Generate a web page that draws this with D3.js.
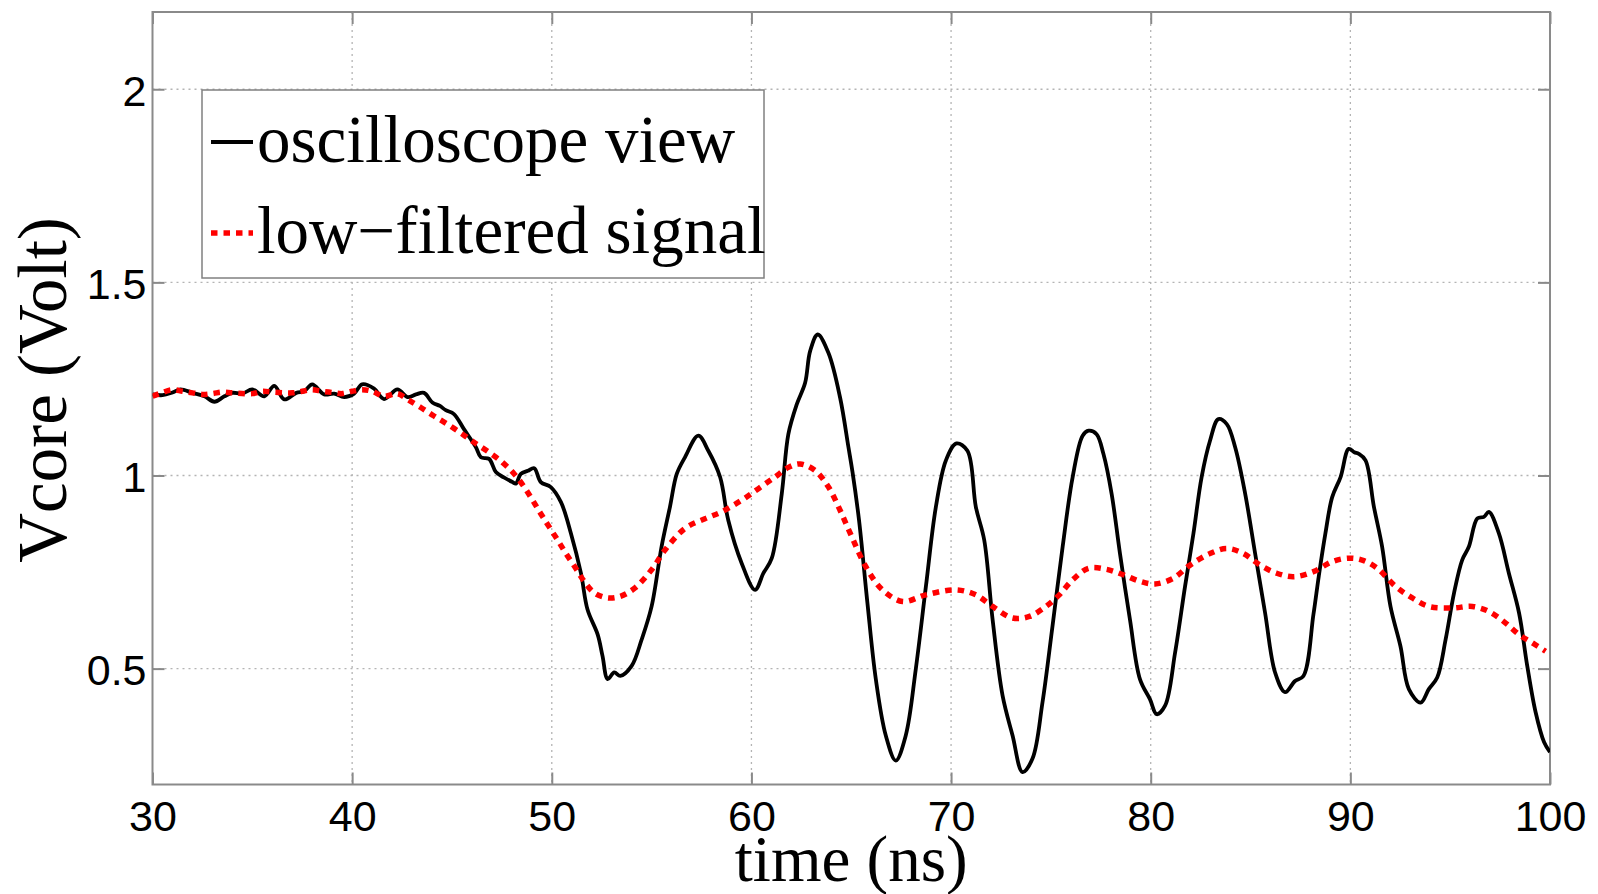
<!DOCTYPE html>
<html>
<head>
  <title>Vcore oscilloscope</title>
</head>
<style>
  body {
    margin: 0;
    background: white;
  }
  .tick text {
    font-family: "Liberation Sans", Arial, sans-serif;
    font-size: 43px;
    fill: black;
  }
  .serif {
    font-family: "Liberation Serif", "Times New Roman", serif;
    fill: black;
  }
</style>
<body>
  <script src="https://d3js.org/d3.v7.min.js"></script>
  <script>
    // oscilloscope trace (ns, V)
    const scopeTime = [30.0, 30.5, 31.0, 31.4, 32.0, 32.6, 33.1, 33.6, 34.0, 34.5, 35.0, 35.6, 36.1, 36.6, 37.2, 37.6,
      38.0, 38.6, 39.1, 39.6, 40.1, 40.5, 41.1, 41.6, 42.27, 42.77, 43.2, 43.6, 44.02, 44.4, 44.69, 45.1, 45.6,
      46.2, 46.45, 46.86, 47.2, 47.6, 48.03, 48.2, 48.45, 48.8, 49.12, 49.45, 49.95, 50.46, 50.96, 51.46, 51.79,
      52.3, 52.54, 52.8, 53.13, 53.43, 54.0, 54.5, 55.0, 55.5, 55.92, 56.26, 56.67, 57.34, 57.84, 58.43, 58.84,
      59.51, 60.18, 60.6, 61.02, 61.52, 61.85, 62.27, 62.69, 62.94, 63.32, 63.86, 64.44, 64.86, 65.06, 65.39,
      65.81, 66.23, 66.73, 67.23, 67.73, 68.23, 68.74, 69.24, 69.74, 70.27, 70.82, 71.24, 71.66, 72.08, 72.58,
      73.08, 73.58, 74.08, 74.58, 75.08, 75.59, 76.09, 76.59, 76.89, 77.29, 77.63, 78.04, 78.46, 78.96, 79.46,
      79.96, 80.3, 80.72, 81.22, 81.72, 82.14, 82.55, 82.97, 83.39, 83.81, 84.23, 84.73, 85.23, 85.73, 86.23,
      86.73, 87.23, 87.65, 88.15, 88.42, 88.75, 89.09, 89.51, 89.92, 90.2, 90.42, 90.76, 91.18, 91.59, 92.01,
      92.51, 92.93, 93.52, 93.93, 94.35, 94.77, 95.19, 95.6, 95.94, 96.36, 96.69, 96.94, 97.44, 97.94, 98.45,
      98.86, 99.28, 99.7, 100.0];
    const scopeVolt = [1.21, 1.208, 1.215, 1.223, 1.214, 1.205, 1.191, 1.205, 1.214, 1.212, 1.223, 1.205, 1.232, 1.197, 1.214, 1.218,
      1.236, 1.21, 1.212, 1.203, 1.212, 1.236, 1.225, 1.198, 1.223, 1.203, 1.21, 1.214, 1.189, 1.18, 1.169, 1.159, 1.12,
      1.073, 1.047, 1.043, 1.009, 0.995, 0.983, 0.979, 1.004, 1.012, 1.019, 0.983, 0.97, 0.931, 0.85, 0.747, 0.653,
      0.588, 0.533, 0.473, 0.49, 0.481, 0.507, 0.575, 0.661, 0.816, 0.919, 1.004, 1.047, 1.103, 1.064, 0.996, 0.884,
      0.773, 0.704, 0.747, 0.786, 0.953, 1.107, 1.184, 1.24, 1.322, 1.365, 1.317, 1.202, 1.073, 1.01, 0.884,
      0.67, 0.473, 0.327, 0.262, 0.327, 0.498, 0.713, 0.919, 1.039, 1.083, 1.064, 0.919, 0.833, 0.627, 0.43,
      0.327, 0.232, 0.267, 0.413, 0.61, 0.816, 0.996, 1.103, 1.116, 1.107, 1.056, 0.953, 0.798, 0.627, 0.473,
      0.421, 0.382, 0.404, 0.541, 0.713, 0.85, 0.996, 1.09, 1.146, 1.133, 1.073, 0.953, 0.798, 0.644, 0.49,
      0.439, 0.468, 0.481, 0.64, 0.74, 0.85, 0.944, 0.996, 1.069, 1.06, 1.056, 1.039, 0.919, 0.816, 0.661,
      0.558, 0.447, 0.412, 0.447, 0.477, 0.575, 0.695, 0.781, 0.816, 0.889, 0.893, 0.906, 0.85, 0.747, 0.644,
      0.507, 0.387, 0.31, 0.284];

    // low-pass filtered signal
    const filtTime = [30, 30.5, 31, 31.5, 32, 32.5, 33, 33.5, 34, 35, 35.5, 36, 37, 37.5, 38, 38.5, 39, 39.5, 40, 40.5,
      41, 41.6, 42.27, 42.77, 43.44, 44.1, 44.77, 45.53, 46.1, 46.86, 47.53, 48.12, 48.62, 49.04, 49.45, 49.87,
      50.29, 50.71, 51.2, 51.62, 52.13, 52.8, 53.43, 54.17, 55.0, 55.67, 56.67, 57.67, 58.51, 59.51, 60.35, 61.18,
      61.85, 62.44, 63.19, 63.86, 64.44, 65.03, 65.73, 66.56, 67.57, 68.74, 70.24, 71.24, 72.08, 73.08, 73.92,
      74.75, 75.42, 76.09, 76.89, 77.79, 78.63, 79.46, 80.22, 81.13, 81.97, 82.97, 83.81, 84.64, 85.48, 86.31,
      87.15, 88.15, 89.09, 89.92, 90.59, 91.34, 92.26, 93.1, 93.93, 95.1, 96.11, 96.94, 97.78, 98.45, 99.11, 99.78];
    const filtVolt = [1.205, 1.215, 1.222, 1.218, 1.214, 1.21, 1.212, 1.216, 1.214, 1.212, 1.218, 1.216, 1.214, 1.218, 1.222, 1.218, 1.215, 1.212, 1.218, 1.222,
      1.218, 1.205, 1.212, 1.197, 1.176, 1.154, 1.133, 1.107, 1.086, 1.06, 1.034, 1.004, 0.97, 0.936, 0.901, 0.867,
      0.833, 0.798, 0.76, 0.726, 0.696, 0.683, 0.687, 0.709, 0.756, 0.807, 0.863, 0.888, 0.906, 0.936, 0.966, 0.996,
      1.021, 1.03, 1.013, 0.97, 0.91, 0.841, 0.764, 0.704, 0.674, 0.691, 0.704, 0.691, 0.661, 0.631, 0.635,
      0.661, 0.691, 0.73, 0.76, 0.757, 0.743, 0.726, 0.719, 0.734, 0.768, 0.798, 0.811, 0.798, 0.768, 0.747,
      0.738, 0.751, 0.777, 0.786, 0.781, 0.76, 0.713, 0.683, 0.661, 0.657, 0.661, 0.648, 0.618, 0.588, 0.567, 0.545];

    const xTicks = [30, 40, 50, 60, 70, 80, 90, 100];
    const yTicks = [0.5, 1, 1.5, 2];
    const legendLabels = ["oscilloscope view", "low\u2212filtered signal"];

    const W = 1598, H = 894;
    const mLeft = 152.5, mRight = 1550, mTop = 12, mBottom = 784.5;
    const axisGray = "#8a8a8a";

    const x = d3.scaleLinear().domain([30, 100]).range([mLeft, mRight]);
    const y = d3.scaleLinear().domain([0.2, 2.2]).range([mBottom, mTop]);

    const svg = d3.select("body").append("svg")
      .attr("width", W)
      .attr("height", H);

    svg.append("defs").append("clipPath").attr("id", "plotclip")
      .append("rect")
      .attr("x", mLeft).attr("y", mTop)
      .attr("width", mRight - mLeft).attr("height", mBottom - mTop);

    // dotted grid
    const grid = svg.append("g")
      .attr("stroke", "#b4b4b4")
      .attr("stroke-width", 1.3)
      .attr("stroke-dasharray", "2,4");
    grid.selectAll("line.gx")
      .data(xTicks.slice(1, -1))
      .join("line")
        .attr("class", "gx")
        .attr("x1", d => x(d)).attr("x2", d => x(d))
        .attr("y1", mTop).attr("y2", mBottom);
    grid.selectAll("line.gy")
      .data(yTicks)
      .join("line")
        .attr("class", "gy")
        .attr("x1", mLeft).attr("x2", mRight)
        .attr("y1", d => y(d)).attr("y2", d => y(d));

    // axes, MATLAB style: ticks pointing inward on all four sides
    const tickLen = 12;
    const xBottom = svg.append("g")
      .attr("transform", "translate(0," + mBottom + ")")
      .call(d3.axisBottom(x).tickValues(xTicks).tickSizeInner(-tickLen).tickSizeOuter(0).tickPadding(16));
    const xTop = svg.append("g")
      .attr("transform", "translate(0," + mTop + ")")
      .call(d3.axisTop(x).tickValues(xTicks).tickSizeInner(-tickLen).tickSizeOuter(0).tickFormat(""));
    const yLeft = svg.append("g")
      .attr("transform", "translate(" + mLeft + ",0)")
      .call(d3.axisLeft(y).tickValues(yTicks).tickSizeInner(-tickLen).tickSizeOuter(0).tickPadding(6)
        .tickFormat(d3.format("")));
    const yRight = svg.append("g")
      .attr("transform", "translate(" + mRight + ",0)")
      .call(d3.axisRight(y).tickValues(yTicks).tickSizeInner(-tickLen).tickSizeOuter(0).tickFormat(""));

    [xBottom, xTop, yLeft, yRight].forEach(g => {
      g.select(".domain").remove();
      g.selectAll(".tick line").attr("stroke", axisGray).attr("stroke-width", 2);
      g.attr("font-family", null).attr("font-size", null);
    });
    yLeft.selectAll(".tick text").attr("dy", "0.38em");

    svg.append("rect")
      .attr("x", mLeft).attr("y", mTop)
      .attr("width", mRight - mLeft).attr("height", mBottom - mTop)
      .attr("fill", "none")
      .attr("stroke", axisGray)
      .attr("stroke-width", 2);

    // traces
    const plot = svg.append("g").attr("clip-path", "url(#plotclip)");
    const line = d3.line()
      .x(d => x(d[0]))
      .y(d => y(d[1]))
      .curve(d3.curveCatmullRom.alpha(0.5));

    plot.append("path")
      .datum(d3.zip(scopeTime, scopeVolt))
      .attr("fill", "none")
      .attr("stroke", "black")
      .attr("stroke-width", 3.8)
      .attr("stroke-linejoin", "round")
      .attr("d", line);

    plot.append("path")
      .datum(d3.zip(filtTime, filtVolt))
      .attr("fill", "none")
      .attr("stroke", "#ff0000")
      .attr("stroke-width", 5.5)
      .attr("stroke-dasharray", "6.5,6")
      .attr("d", line);

    // axis labels
    svg.append("text")
      .attr("class", "serif")
      .attr("x", (mLeft + mRight) / 2)
      .attr("y", 881)
      .attr("text-anchor", "middle")
      .attr("font-size", 65)
      .text("time (ns)");

    svg.append("text")
      .attr("class", "serif")
      .attr("transform", "translate(66,390) rotate(-90)")
      .attr("text-anchor", "middle")
      .attr("font-size", 69)
      .text("Vcore (Volt)");

    // legend
    const legend = svg.append("g");
    legend.append("rect")
      .attr("x", 202).attr("y", 90)
      .attr("width", 562).attr("height", 188)
      .attr("fill", "white")
      .attr("stroke", "#808080")
      .attr("stroke-width", 1.5);

    const rowY = [142, 233];
    const rowStyle = [
      {stroke: "black", width: 3.8, dash: null},
      {stroke: "#ff0000", width: 5.5, dash: "6.5,6"}
    ];
    legend.selectAll("line")
      .data(rowY)
      .join("line")
        .attr("x1", 211).attr("x2", 253)
        .attr("y1", d => d).attr("y2", d => d)
        .attr("stroke", (d, i) => rowStyle[i].stroke)
        .attr("stroke-width", (d, i) => rowStyle[i].width)
        .attr("stroke-dasharray", (d, i) => rowStyle[i].dash);
    legend.selectAll("text")
      .data(legendLabels)
      .join("text")
        .attr("class", "serif")
        .attr("x", 257)
        .attr("y", (d, i) => rowY[i] + 20)
        .attr("font-size", 67)
        .text(d => d);
  </script>
</body>
</html>
